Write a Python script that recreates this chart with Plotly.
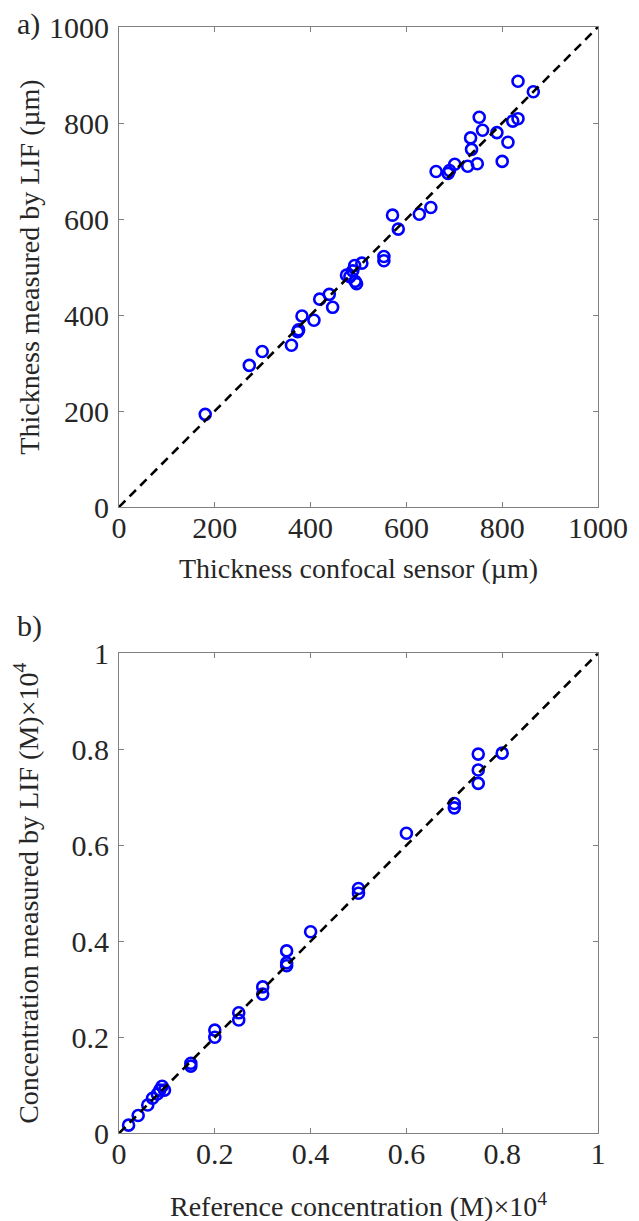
import plotly.graph_objects as go

# Panel a: thickness (µm)
thick_confocal = [180, 272, 299, 360, 373, 375, 382, 407, 419, 439, 446, 475, 482, 488, 493, 496,
                  492, 507, 553, 553, 571, 583, 627, 651, 662, 687, 690, 701, 728, 748, 736, 734,
                  752, 759, 789, 812, 800, 822, 833, 833, 865]
thick_lif = [193, 295, 324, 337, 365, 369, 398, 389, 433, 443, 416, 483, 480, 492, 470, 465,
             503, 508, 522, 513, 608, 579, 610, 624, 699, 695, 701, 714, 710, 715, 745, 769,
             812, 785, 780, 760, 720, 804, 809, 887, 865]

# Panel b: concentration (M) x 1e4
conc_ref = [0.02, 0.04, 0.06, 0.07, 0.08, 0.085, 0.09, 0.095, 0.15, 0.15, 0.2, 0.2, 0.25, 0.25,
            0.3, 0.3, 0.35, 0.35, 0.35, 0.4, 0.5, 0.5, 0.6, 0.7, 0.7, 0.75, 0.75, 0.75, 0.8]
conc_lif = [0.017, 0.037, 0.059, 0.073, 0.082, 0.09, 0.098, 0.09, 0.146, 0.14, 0.215, 0.2, 0.251,
            0.236, 0.305, 0.29, 0.38, 0.355, 0.349, 0.42, 0.51, 0.5, 0.625, 0.687, 0.678, 0.79,
            0.757, 0.729, 0.792]

diag_a = [0, 1000]
diag_b = [0, 1]
ticks_a = [0, 200, 400, 600, 800, 1000]
ticks_b = [0, 0.2, 0.4, 0.6, 0.8, 1]
ticktext_b = ["0", "0.2", "0.4", "0.6", "0.8", "1"]

FONT = "Liberation Serif"
TXT = "#262626"
AX = "#808080"
marker = dict(symbol="circle-open", size=11, color="#0000ff", line=dict(width=2.6, color="#0000ff"))
dash = dict(color="black", width=2.6, dash="9px,6px")

fig = go.Figure()
fig.add_trace(go.Scatter(x=thick_confocal, y=thick_lif, mode="markers", marker=marker,
                         xaxis="x", yaxis="y", showlegend=False))
fig.add_trace(go.Scatter(x=diag_a, y=diag_a, mode="lines", line=dash,
                         xaxis="x", yaxis="y", showlegend=False))
fig.add_trace(go.Scatter(x=conc_ref, y=conc_lif, mode="markers", marker=marker,
                         xaxis="x2", yaxis="y2", showlegend=False))
fig.add_trace(go.Scatter(x=diag_b, y=diag_b, mode="lines", line=dash,
                         xaxis="x2", yaxis="y2", showlegend=False))

W, H = 639, 1221
OFF = 8  # page body margin


def px(xp):
    return (xp - OFF) / W


def py(yp):
    return 1 - (yp - OFF) / H


xd = [px(119), px(598)]
ya = [py(507), py(27)]
yb = [py(1133.3), py(653.3)]

common = dict(showgrid=False, zeroline=False, showline=True, linecolor=AX, linewidth=1,
              mirror="ticks", ticks="inside", ticklen=5, tickcolor=AX, tickwidth=1,
              automargin=False,
              tickfont=dict(family=FONT, size=30, color=TXT))
title_font = dict(family=FONT, size=28, color=TXT)

fig.update_layout(
    width=W, height=H, margin=dict(l=0, r=0, t=0, b=0),
    paper_bgcolor="white", plot_bgcolor="white",
    xaxis=dict(domain=xd, range=[0, 1000], tickvals=ticks_a, anchor="y", ticklabelstandoff=-6,
               title=dict(text="Thickness confocal sensor (µm)", font=title_font, standoff=15), **common),
    yaxis=dict(domain=ya, range=[0, 1000], tickvals=ticks_a, anchor="x", ticklabelstandoff=3,
               title=dict(text="Thickness measured by LIF (µm)", font=title_font, standoff=1), **common),
    xaxis2=dict(domain=xd, range=[0, 1], tickvals=ticks_b, ticktext=ticktext_b, anchor="y2",
                ticklabelstandoff=-6,
                title=dict(text="Reference concentration (M)×10<sup>4</sup>", font=title_font, standoff=27), **common),
    yaxis2=dict(domain=yb, range=[0, 1], tickvals=ticks_b, ticktext=ticktext_b, anchor="x2",
                ticklabelstandoff=3,
                title=dict(text="Concentration measured by LIF (M)×10<sup>4</sup>", font=title_font, standoff=24), **common),
    annotations=[
        dict(text="a)", x=px(15), y=py(24), xref="paper", yref="paper", xanchor="left", yanchor="middle",
             showarrow=False, font=dict(family=FONT, size=30, color=TXT)),
        dict(text="b)", x=px(15), y=py(626), xref="paper", yref="paper", xanchor="left", yanchor="middle",
             showarrow=False, font=dict(family=FONT, size=30, color=TXT)),
    ],
)

fig.write_html("out.html")
